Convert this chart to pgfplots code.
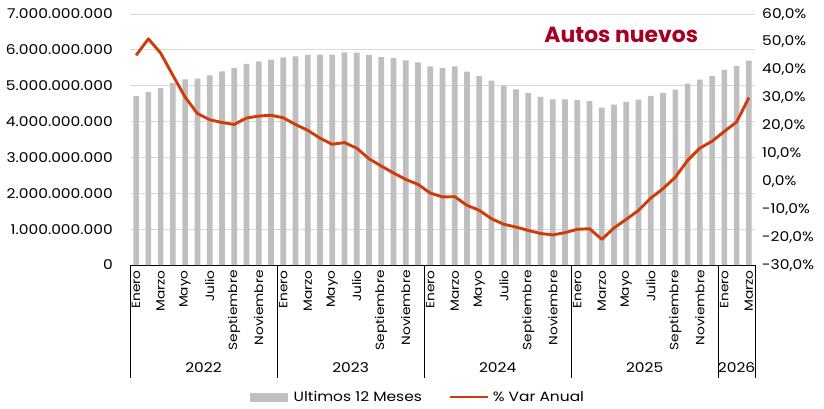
\documentclass[border=0pt]{standalone}
\usepackage{pgfplots}
\pgfplotsset{compat=1.18}
\usepackage{pgfplotstable}
\usepackage{fontspec}
\setmainfont{Poppins}[FakeStretch=1.15]
\newfontfamily\titlefont{Poppins}
\definecolor{bargray}{HTML}{BFBFBF}
\definecolor{linecol}{HTML}{CF3C0A}
\definecolor{titlecol}{HTML}{A50021}
\definecolor{gridgray}{HTML}{D9D9D9}

% x = month index (0 = Enero 2022), v = Ultimos 12 meses (miles de millones), p = % Var Anual
\pgfplotstableread{
x v p
0 4.71 45.2
1 4.82 51.1
2 4.93 46.0
3 5.07 38.0
4 5.18 30.2
5 5.20 24.3
6 5.29 22.1
7 5.40 21.1
8 5.50 20.4
9 5.61 22.7
10 5.68 23.4
11 5.73 23.7
12 5.79 22.8
13 5.82 20.4
14 5.86 18.3
15 5.87 15.5
16 5.87 13.3
17 5.93 13.9
18 5.92 11.9
19 5.86 8.1
20 5.80 5.5
21 5.77 3.0
22 5.71 0.7
23 5.65 -1.1
24 5.54 -4.2
25 5.49 -5.6
26 5.54 -5.5
27 5.39 -8.6
28 5.27 -10.4
29 5.14 -13.4
30 5.00 -15.4
31 4.90 -16.4
32 4.79 -17.6
33 4.69 -18.7
34 4.62 -19.2
35 4.62 -18.4
36 4.60 -17.2
37 4.57 -17.0
38 4.39 -20.8
39 4.47 -16.7
40 4.55 -13.6
41 4.61 -10.4
42 4.72 -6.0
43 4.80 -2.6
44 4.89 1.5
45 5.06 7.5
46 5.17 11.9
47 5.27 14.4
48 5.44 17.9
49 5.55 21.3
50 5.70 30.0
}\datatable

\begin{document}
\begin{tikzpicture}
\begin{axis}[
  scale only axis, width=625bp, height=251bp,
  xmin=-0.5, xmax=50.5, ymin=0, ymax=7,
  axis x line*=bottom, axis y line*=left,
  y axis line style={draw=none},
  x axis line style={black, line width=0.8pt, -},
  ytick={0,1,...,7},
  yticklabels={0,1.000.000.000,2.000.000.000,3.000.000.000,4.000.000.000,5.000.000.000,6.000.000.000,7.000.000.000},
  ymajorgrids, grid style={gridgray, line width=0.8pt},
  major tick length=0pt,
  y tick label style={font=\fontsize{13.5}{16}\selectfont, inner sep=0pt, anchor=east, xshift=-17bp},
  xtick={0,2,...,50},
  xticklabels={Enero,Marzo,Mayo,Julio,Septiembre,Noviembre,Enero,Marzo,Mayo,Julio,Septiembre,Noviembre,Enero,Marzo,Mayo,Julio,Septiembre,Noviembre,Enero,Marzo,Mayo,Julio,Septiembre,Noviembre,Enero,Marzo},
  x tick label style={font=\fontsize{12}{14}\selectfont, rotate=90, anchor=east, inner sep=0pt},
  xticklabel shift=5bp,
  clip=false,
]
\addplot[ybar, bar width=5.7bp, bar shift=0pt, fill=bargray, draw=none] table[x=x, y=v] {\datatable};
\coordinate (SW) at (rel axis cs:0,0);
\coordinate (NE) at (rel axis cs:1,1);
\pgfplotsinvokeforeach{-0.5,11.5,23.5,35.5,47.5,50.5}{
  \draw[black, line width=0.8pt] (axis cs:#1,0) -- ([yshift=-113bp]axis cs:#1,0);
}
\node[font=\fontsize{13.5}{16}\selectfont, inner sep=0pt] at ([yshift=-103bp]axis cs:5.5,0) {2022};
\node[font=\fontsize{13.5}{16}\selectfont, inner sep=0pt] at ([yshift=-103bp]axis cs:17.5,0) {2023};
\node[font=\fontsize{13.5}{16}\selectfont, inner sep=0pt] at ([yshift=-103bp]axis cs:29.5,0) {2024};
\node[font=\fontsize{13.5}{16}\selectfont, inner sep=0pt] at ([yshift=-103bp]axis cs:41.5,0) {2025};
\node[font=\fontsize{13.5}{16}\selectfont, inner sep=0pt] at ([yshift=-103bp]axis cs:49,0) {2026};
\node[font=\titlefont\fontsize{22}{26}\selectfont\bfseries, text=titlecol, inner sep=0pt] at (rel axis cs:0.786,0.916) {Autos nuevos};
\end{axis}
\begin{axis}[
  scale only axis, width=625bp, height=251bp,
  xmin=-0.5, xmax=50.5, ymin=-30, ymax=60,
  axis x line=none, axis y line*=right,
  y axis line style={draw=none},
  ytick={-30,-20,...,60},
  yticklabels={{-30,0\%},{-20,0\%},{-10,0\%},{0,0\%},{10,0\%},{20,0\%},{30,0\%},{40,0\%},{50,0\%},{60,0\%}},
  major tick length=0pt,
  y tick label style={font=\fontsize{13.5}{16}\selectfont, inner sep=0pt, anchor=west, xshift=7bp},
  legend columns=2,
  legend style={at={(0.461,-0.526)}, anchor=center, draw=none, fill=none,
    font=\fontsize{13.5}{16}\selectfont, inner sep=0pt,
    /tikz/every even column/.append style={column sep=25bp}},
  clip=false,
]
\addlegendimage{legend image code/.code={\fill[bargray] (0bp,-4bp) rectangle (37bp,4bp);}}
\addlegendentry{\hspace{4bp}Ultimos 12 Meses}
\addplot[linecol, line width=2.9bp, line join=round,
  legend image code/.code={\draw[linecol, line width=2.9bp] (0bp,0bp) -- (38bp,0bp);}]
  table[x=x, y=p] {\datatable};
\addlegendentry{\hspace{1bp}\% Var Anual}
\end{axis}
\pgfresetboundingbox
\path ([shift={(-130bp,-143bp)}]SW) rectangle ([shift={(69bp,14bp)}]NE);
\end{tikzpicture}
\end{document}
